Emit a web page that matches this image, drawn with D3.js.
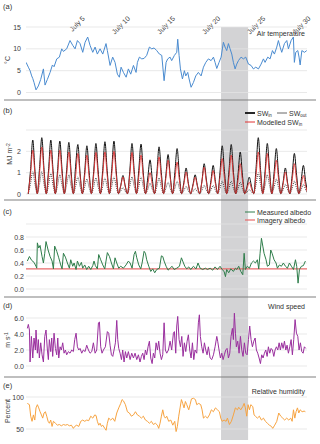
<!DOCTYPE html>
<html lang="en">
<head>
<meta charset="UTF-8"/>
<title>Weather panels</title>
<script src="https://d3js.org/d3.v7.min.js"></script>
<style>
  body { margin:0; background:#fff; }
  text { font-family:"Liberation Sans", Arial, sans-serif; }
</style>
</head>
<body>
<script>
// ---------------- data (t = days since June 29, 00:00) ----------------
var dateTicks = [6, 11, 16, 21, 26, 31];
var dateLabels = ["July 5", "July 10", "July 15", "July 20", "July 25", "July 30"];
var bandStart = 21.37, bandEnd = 24.37;

// (a) air temperature, degC
var tempT = [-0.24,0.01,0.2,0.38,0.5,0.64,0.86,1.12,1.38,1.68,1.86,2.12,2.42,2.68,2.86,3.16,3.45,3.71,3.9,4.26,4.63,4.93,5.19,5.45,5.74,6.04,6.3,6.59,6.85,7.15,7.41,7.66,7.96,8.26,8.62,8.77,9.07,9.36,9.62,9.88,10.1,10.29,10.55,10.85,11.1,11.36,11.66,11.95,12.1,12.32,12.58,12.84,13.13,13.43,13.69,13.95,14.24,14.54,14.8,15.06,15.28,15.46,15.72,15.9,16.2,16.46,16.57,16.72,16.87,17.09,17.31,17.46,17.68,17.83,18.05,18.31,18.57,18.86,19.16,19.42,19.68,19.97,20.27,20.53,20.71,20.9,21.15,21.38,21.63,21.82,22.0,22.19,22.37,22.56,22.74,22.93,23.11,23.3,23.59,23.85,24.11,24.41,24.7,24.96,25.22,25.52,25.81,26.07,26.25,26.55,26.81,27.07,27.29,27.55,27.73,27.92,28.1,28.4,28.66,28.84,29.14,29.39,29.5,29.65,29.88,30.02,30.14,30.33,30.62,30.87];
var tempC = [6.9,5.8,5.0,3.8,3.2,2.3,0.6,1.5,3.0,5.4,1.7,3.0,4.6,6.3,5.9,7.7,8.1,10.0,9.4,10.0,11.9,10.8,10.0,11.9,11.2,9.2,11.5,12.7,10.8,9.2,10.4,8.8,10.0,8.8,11.2,9.6,6.2,8.1,6.9,4.2,3.5,5.8,4.6,3.5,5.4,4.2,6.2,4.6,6.9,8.1,7.7,7.8,8.5,10.4,10.0,10.2,9.6,8.8,8.5,2.7,6.9,7.7,8.1,7.3,8.5,9.2,12.2,8.5,5.4,3.1,5.0,3.8,4.6,3.1,1.2,2.3,3.8,4.6,3.8,5.8,6.9,7.7,7.3,8.1,6.9,5.5,6.9,8.1,11.5,10.4,9.6,11.2,10.0,8.8,6.9,5.4,6.5,7.3,8.1,7.7,8.1,6.5,6.2,5.4,5.8,5.4,6.5,7.7,6.9,8.1,7.7,9.6,8.8,10.4,11.9,10.4,9.2,11.2,11.9,10.0,11.9,12.7,6.9,9.2,9.6,8.1,6.3,9.6,9.2,9.6];

// (b) shortwave, MJ m-2, every 6 h from t = 0 (night, morning, noon, evening)
var swIn = [
  0.02,1.10,2.53,1.05, 0.03,1.20,2.64,1.15, 0.02,1.12,2.53,1.10, 0.02,1.10,2.48,1.12,
  0.03,1.08,2.42,1.05, 0.02,1.30,2.32,0.95, 0.02,1.00,2.26,1.02, 0.03,1.05,2.37,1.08,
  0.02,1.10,2.45,1.10, 0.02,1.12,2.48,1.10, 0.02,0.40,0.87,0.38, 0.02,1.05,2.37,1.07,
  0.03,1.10,2.34,1.00, 0.02,0.75,1.60,0.70, 0.02,0.95,2.21,1.00, 0.03,0.85,1.85,0.80,
  0.02,1.00,2.13,0.92, 0.02,0.55,1.22,0.50, 0.02,0.42,0.90,0.40, 0.02,0.60,1.42,0.65,
  0.02,0.62,1.34,0.58, 0.03,1.00,2.26,1.05, 0.02,1.08,2.32,1.00, 0.02,0.90,1.97,0.85,
  0.02,0.35,0.79,0.36, 0.02,1.20,2.64,1.15, 0.03,1.05,2.37,1.10, 0.02,0.98,2.13,0.92,
  0.02,0.55,1.22,0.52, 0.02,0.85,1.90,0.88, 0.02,0.62,1.34,0.58, 0.02];
var swOut = [
  0.01,0.48,1.05,0.45, 0.01,0.47,1.05,0.46, 0.01,0.43,0.95,0.42, 0.01,0.40,0.90,0.40,
  0.01,0.41,0.90,0.39, 0.01,0.36,0.80,0.35, 0.01,0.32,0.70,0.30, 0.01,0.34,0.75,0.33,
  0.01,0.34,0.75,0.33, 0.01,0.36,0.80,0.35, 0.01,0.14,0.30,0.13, 0.01,0.36,0.80,0.35,
  0.01,0.36,0.80,0.35, 0.01,0.22,0.50,0.22, 0.01,0.34,0.75,0.33, 0.01,0.25,0.55,0.24,
  0.01,0.27,0.60,0.26, 0.01,0.16,0.35,0.15, 0.01,0.11,0.25,0.11, 0.01,0.18,0.40,0.17,
  0.01,0.18,0.40,0.17, 0.01,0.27,0.60,0.26, 0.01,0.27,0.60,0.26, 0.01,0.25,0.55,0.24,
  0.01,0.09,0.20,0.09, 0.01,0.45,1.00,0.44, 0.01,0.41,0.90,0.40, 0.01,0.32,0.70,0.30,
  0.01,0.20,0.45,0.20, 0.01,0.27,0.60,0.26, 0.01,0.20,0.45,0.20, 0.01];
var swModel = [
  0.02,0.92,2.05,0.90, 0.02,0.98,2.20,0.97, 0.02,0.92,2.05,0.91, 0.02,0.92,2.05,0.90,
  0.02,0.88,1.97,0.87, 0.02,0.85,1.90,0.84, 0.02,0.82,1.82,0.80, 0.02,0.88,1.95,0.86,
  0.02,0.88,1.97,0.87, 0.02,0.90,2.00,0.88, 0.02,0.36,0.80,0.35, 0.02,0.88,1.95,0.86,
  0.02,0.82,1.82,0.80, 0.02,0.45,1.00,0.44, 0.02,0.78,1.74,0.77, 0.02,0.71,1.58,0.70,
  0.02,0.68,1.50,0.66, 0.02,0.46,1.03,0.45, 0.02,0.36,0.79,0.35, 0.02,0.57,1.26,0.55,
  0.02,0.50,1.10,0.48, 0.02,0.75,1.66,0.73, 0.02,0.82,1.82,0.80, 0.02,0.64,1.42,0.62,
  0.02,0.25,0.55,0.24, 0.02,0.88,1.97,0.87, 0.02,0.85,1.90,0.84, 0.02,0.71,1.58,0.70,
  0.02,0.46,1.03,0.45, 0.02,0.64,1.42,0.62, 0.02,0.39,0.87,0.38, 0.02];
var swT = d3.range(swIn.length).map(function(i){ return i * 0.25; });

// (c) albedo
var albT = [-0.1,0.13,0.38,0.64,0.86,0.94,1.01,1.16,1.31,1.53,1.68,1.83,1.97,2.2,2.42,2.64,2.79,2.93,3.16,3.38,3.6,3.75,3.9,4.12,4.34,4.56,4.71,4.93,5.08,5.3,5.45,5.67,5.89,6.04,6.26,6.48,6.7,6.93,7.15,7.29,7.44,7.66,7.81,8.03,8.26,8.48,8.77,9.0,9.22,9.44,9.62,9.81,10.03,10.25,10.55,10.84,11.1,11.29,11.51,11.73,11.88,12.03,12.25,12.47,12.62,12.84,12.99,13.13,13.36,13.58,13.8,14.02,14.24,14.54,14.76,14.91,15.06,15.28,15.5,15.72,15.94,16.17,16.46,16.76,16.98,17.12,17.35,17.57,17.79,18.01,18.31,18.6,18.82,19.05,19.34,19.64,19.86,20.16,20.45,20.71,20.97,21.26,21.49,21.71,21.86,22.0,22.22,22.45,22.74,22.97,23.12,23.33,23.56,23.78,23.93,24.07,24.29,24.52,24.74,24.96,25.18,25.4,25.55,25.7,25.85,26.0,26.14,26.36,26.51,26.73,26.88,27.03,27.25,27.47,27.62,27.84,28.06,28.28,28.51,28.73,28.95,29.17,29.4,29.62,29.76,29.91,30.06,30.28,30.5,30.72];
var albMeasured = [0.43,0.5,0.44,0.41,0.35,0.32,0.71,0.63,0.67,0.5,0.4,0.55,0.73,0.6,0.5,0.43,0.31,0.66,0.58,0.48,0.37,0.31,0.55,0.49,0.4,0.32,0.45,0.35,0.4,0.3,0.43,0.35,0.41,0.32,0.37,0.3,0.35,0.3,0.36,0.43,0.36,0.31,0.53,0.45,0.37,0.31,0.56,0.5,0.4,0.31,0.48,0.4,0.32,0.35,0.32,0.37,0.43,0.4,0.32,0.53,0.58,0.48,0.37,0.31,0.4,0.58,0.55,0.45,0.35,0.27,0.31,0.25,0.3,0.32,0.51,0.5,0.43,0.35,0.29,0.32,0.35,0.3,0.32,0.35,0.48,0.43,0.35,0.31,0.34,0.3,0.35,0.31,0.4,0.32,0.3,0.32,0.3,0.32,0.29,0.34,0.3,0.35,0.3,0.27,0.19,0.3,0.25,0.31,0.27,0.32,0.3,0.35,0.27,0.22,0.55,0.3,0.35,0.32,0.4,0.43,0.4,0.45,0.31,0.55,0.78,0.66,0.55,0.45,0.35,0.37,0.6,0.55,0.45,0.4,0.32,0.37,0.35,0.4,0.35,0.32,0.4,0.35,0.3,0.45,0.35,0.09,0.3,0.35,0.36,0.43];
var albImageryT = [-0.25, 30.9];
var albImagery = [0.31, 0.31];

// (d) wind speed, m s-1
var windT = [-0.1,0.01,0.13,0.2,0.35,0.5,0.64,0.79,0.86,1.01,1.12,1.23,1.38,1.53,1.68,1.83,1.97,2.12,2.23,2.34,2.49,2.6,2.71,2.86,3.01,3.16,3.27,3.38,3.53,3.67,3.82,3.97,4.12,4.26,4.45,4.63,4.82,5.0,5.15,5.3,5.45,5.6,5.74,5.93,6.11,6.3,6.48,6.67,6.85,7.04,7.22,7.41,7.59,7.78,7.89,8.03,8.18,8.33,8.55,8.77,8.92,9.07,9.22,9.37,9.51,9.66,9.81,9.92,10.03,10.18,10.33,10.47,10.62,10.77,10.92,11.1,11.29,11.47,11.66,11.84,12.03,12.21,12.39,12.54,12.69,12.84,12.99,13.13,13.28,13.43,13.58,13.73,13.87,14.02,14.17,14.32,14.46,14.61,14.76,14.91,15.06,15.2,15.35,15.54,15.72,15.9,16.09,16.2,16.35,16.46,16.57,16.72,16.87,17.02,17.16,17.31,17.46,17.61,17.75,17.9,18.05,18.2,18.35,18.49,18.68,18.86,18.97,19.08,19.23,19.38,19.53,19.68,19.82,19.97,20.16,20.34,20.53,20.71,20.9,21.0,21.15,21.3,21.45,21.6,21.74,21.89,22.04,22.19,22.34,22.48,22.63,22.74,22.85,22.97,23.07,23.22,23.37,23.52,23.67,23.81,23.96,24.11,24.26,24.41,24.55,24.7,24.85,25.0,25.15,25.29,25.44,25.59,25.74,25.88,26.03,26.18,26.33,26.48,26.62,26.77,26.92,27.07,27.22,27.36,27.51,27.66,27.81,27.95,28.1,28.25,28.4,28.55,28.69,28.84,28.99,29.14,29.28,29.43,29.58,29.73,29.88,30.02,30.17,30.32,30.47,30.61,30.76];
var windSpeed = [4.7,5.2,4.5,0.5,3.7,1.0,3.5,2.0,4.5,1.6,3.3,1.0,2.9,1.4,0.5,3.7,4.5,2.0,0.8,3.3,1.8,3.5,1.2,4.1,2.2,1.4,3.5,1.0,2.4,2.0,2.9,1.6,2.0,1.4,1.8,1.6,2.0,1.8,3.3,4.1,2.4,2.0,2.2,1.6,2.0,1.8,2.6,2.0,1.6,1.8,2.9,1.6,2.0,5.4,5.5,2.4,1.6,2.0,2.4,4.3,4.1,2.6,1.4,1.2,2.0,2.9,5.7,3.3,2.2,1.6,0.8,2.0,0.5,1.8,1.0,1.8,0.8,1.6,1.0,1.6,0.8,1.4,0.5,1.2,1.6,0.8,2.0,1.4,2.4,3.1,1.0,0.3,1.6,1.0,2.9,2.0,3.1,1.6,0.8,1.4,5.4,2.0,1.6,2.0,3.1,2.0,4.1,4.3,1.6,5.0,6.2,3.3,2.4,3.7,1.2,2.9,1.8,3.1,3.9,2.0,1.0,2.9,0.8,2.0,1.6,5.4,6.4,3.7,2.4,1.6,2.9,2.0,1.4,2.4,1.0,0.8,1.4,2.4,3.7,3.1,2.0,1.0,1.6,0.8,1.4,2.0,2.2,1.0,1.6,3.7,4.7,3.3,6.6,4.1,2.4,3.1,1.6,3.7,2.0,1.2,2.9,1.6,1.4,3.3,5.0,3.3,2.4,3.1,3.5,2.0,1.6,1.0,0.3,1.4,1.0,1.6,2.0,1.2,2.4,1.6,2.2,2.0,1.2,2.0,2.4,2.0,2.9,2.0,2.9,2.2,3.1,2.0,2.6,1.6,2.4,3.3,1.4,3.3,5.8,4.1,3.7,2.0,2.9,1.8,1.6,2.4,2.2];

// (e) relative humidity, percent
var rhT = [-0.1,0.13,0.27,0.42,0.57,0.72,0.86,1.01,1.16,1.31,1.46,1.6,1.75,1.9,2.05,2.2,2.34,2.49,2.64,2.79,3.01,3.23,3.45,3.67,3.9,4.12,4.34,4.56,4.78,5.0,5.15,5.37,5.6,5.82,6.04,6.26,6.48,6.7,6.93,7.15,7.37,7.52,7.66,7.81,7.96,8.11,8.26,8.48,8.63,8.77,8.92,9.14,9.37,9.59,9.81,10.03,10.25,10.4,10.55,10.77,10.99,11.21,11.43,11.66,11.88,12.1,12.32,12.54,12.76,12.99,13.21,13.43,13.65,13.87,14.09,14.32,14.46,14.61,14.76,14.91,15.06,15.2,15.35,15.57,15.8,16.02,16.24,16.39,16.53,16.68,16.83,16.98,17.12,17.27,17.42,17.57,17.79,17.94,18.09,18.31,18.53,18.68,18.9,19.12,19.27,19.42,19.64,19.86,20.08,20.3,20.52,20.75,20.97,21.19,21.34,21.49,21.71,21.93,22.08,22.3,22.52,22.74,22.96,23.19,23.33,23.56,23.78,23.93,24.07,24.22,24.37,24.52,24.67,24.89,25.03,25.18,25.4,25.62,25.85,26.07,26.29,26.51,26.73,26.96,27.1,27.32,27.55,27.77,27.99,28.21,28.43,28.65,28.88,29.1,29.25,29.4,29.55,29.69,29.84,29.99,30.14,30.36,30.58,30.72];
var rhPct = [90,88,70,62,72,64,83,88,83,77,72,67,75,77,70,62,59,64,54,62,59,56,57,55,57,56,57,55,56,51,54,56,54,62,64,62,64,63,70,67,72,71,62,56,59,54,56,51,48,59,67,64,67,62,75,83,90,96,94,88,77,75,70,72,77,72,70,67,70,64,62,59,62,57,59,56,51,59,70,80,70,67,70,62,64,56,62,46,54,70,83,96,90,83,93,88,80,88,97,98,96,88,90,88,80,67,70,67,72,80,77,83,80,77,67,62,64,62,67,57,62,72,83,80,84,80,85,90,83,70,88,80,88,85,72,70,67,70,64,67,62,59,56,54,51,56,62,75,70,67,64,67,64,67,62,80,67,77,83,75,80,77,78,77];

// ---------------- drawing ----------------
var w = 320, h = 444;
var left = 26, right = 307;
var svg = d3.select("body").append("svg").attr("width", w).attr("height", h);

var xScale = d3.scaleLinear().domain([-0.25, 30.9]).range([left, right]);

svg.append("defs").append("clipPath").attr("id", "plotclip")
  .append("rect").attr("x", left).attr("y", 0).attr("width", right - left).attr("height", h);

// grey period band
svg.append("rect")
  .attr("x", xScale(bandStart)).attr("y", 27)
  .attr("width", xScale(bandEnd) - xScale(bandStart))
  .attr("height", 413)
  .attr("fill", "#d3d3d5");

// panel separators
[100, 200, 297, 377].forEach(function(y){
  svg.append("line").attr("x1", 4).attr("x2", 316).attr("y1", y).attr("y2", y)
    .attr("stroke", "#808080").attr("stroke-width", 1.2);
});

// date labels on top
svg.selectAll(".dlab").data(dateTicks).enter().append("text")
  .attr("class", "dlab")
  .attr("transform", function(d){ return "translate(" + (xScale(d) + 3) + ",19) rotate(-45)"; })
  .attr("text-anchor", "end")
  .attr("font-size", 7).attr("fill", "#404040")
  .text(function(d, i){ return dateLabels[i]; });

function panel(cfg) {
  var y = d3.scaleLinear().domain(cfg.domain).range(cfg.range);
  var g = svg.append("g");
  // gridlines
  g.selectAll(".grid").data(cfg.grid).enter().append("line")
    .attr("x1", left).attr("x2", right)
    .attr("y1", function(d){ return y(d); }).attr("y2", function(d){ return y(d); })
    .attr("stroke", "#e3e3e3").attr("stroke-width", 0.8);
  // tick labels
  g.selectAll(".tl").data(cfg.ticks).enter().append("text")
    .attr("x", cfg.tickX).attr("y", function(d){ return y(d) + 2.5; })
    .attr("text-anchor", "end").attr("font-size", 7).attr("fill", "#404040")
    .text(function(d){ return cfg.fmt(d); });
  // y title
  if (cfg.title) {
    var tt = g.append("text")
      .attr("transform", "translate(" + cfg.titleX + "," + cfg.titleY + ") rotate(-90)")
      .attr("text-anchor", "middle").attr("font-size", 7).attr("fill", "#404040");
    tt.append("tspan").text(cfg.title);
    if (cfg.titleSup) {
      tt.append("tspan").attr("dy", -2.5).attr("font-size", 5).text(cfg.titleSup);
    }
  }
  // panel letter
  svg.append("text").attr("x", 3).attr("y", cfg.letterY)
    .attr("font-size", 7.5).attr("fill", "#303030").text(cfg.letter);
  // series
  cfg.series.forEach(function(s){
    var line = d3.line()
      .x(function(d){ return xScale(d[0]); })
      .y(function(d){ return y(d[1]); })
      .curve(s.curve || d3.curveLinear);
    g.append("path")
      .datum(s.t.map(function(t, i){ return [t, s.v[i]]; }))
      .attr("clip-path", "url(#plotclip)")
      .attr("d", line)
      .attr("fill", "none")
      .attr("stroke", s.color)
      .attr("stroke-width", s.width || 1)
      .attr("stroke-dasharray", s.dash || null)
      .attr("stroke-linejoin", "round");
  });
  return y;
}

// (a)
panel({
  letter: "(a)", letterY: 9,
  domain: [0, 15], range: [92.5, 27], grid: [0, 5, 10, 15], ticks: [0, 5, 10, 15],
  fmt: d3.format("d"), tickX: 21, title: "°C", titleX: 10, titleY: 60,
  series: [{ t: tempT, v: tempC, color: "#4a8bd0", width: 1 }]
});
svg.append("text").attr("x", 305).attr("y", 36).attr("text-anchor", "end")
  .attr("font-size", 7).attr("fill", "#303030").text("Air temperature");

// (b)
panel({
  letter: "(b)", letterY: 113,
  domain: [0, 3], range: [194, 130], grid: [0, 1, 2, 3], ticks: [0, 1, 2],
  fmt: d3.format("d"), tickX: 21, title: "MJ m", titleSup: "-2", titleX: 12, titleY: 154,
  series: [
    { t: swT, v: swOut, color: "#3a3a3a", width: 0.9, dash: "1,1", curve: d3.curveMonotoneX },
    { t: swT, v: swIn, color: "#111111", width: 1, curve: d3.curveMonotoneX },
    { t: swT, v: swModel, color: "#e03131", width: 0.9, curve: d3.curveMonotoneX }
  ]
});
// legend (b)
function legendLine(x, y, color, width, dash) {
  svg.append("line").attr("x1", x).attr("x2", x + 10).attr("y1", y).attr("y2", y)
    .attr("stroke", color).attr("stroke-width", width).attr("stroke-dasharray", dash || null);
}
function legendText(x, y, main, sub) {
  var t = svg.append("text").attr("x", x).attr("y", y + 2.5)
    .attr("font-size", 7).attr("fill", "#303030");
  t.append("tspan").text(main);
  if (sub) t.append("tspan").attr("dy", 1.5).attr("font-size", 4.5).text(sub);
}
legendLine(245, 113, "#111111", 1.8);
legendText(257, 113, "SW", "in");
legendLine(277, 113, "#666666", 1);
legendText(289, 113, "SW", "out");
legendLine(245, 122, "#e03131", 1);
legendText(257, 122, "Modelled SW", "in");

// (c)
panel({
  letter: "(c)", letterY: 214,
  domain: [0, 1], range: [289, 224], grid: [0, 0.2, 0.4, 0.6, 0.8, 1.0], ticks: [0, 0.2, 0.4, 0.6, 0.8],
  fmt: d3.format(".1f"), tickX: 24,
  series: [
    { t: albImageryT, v: albImagery, color: "#e86a6a", width: 1.2 },
    { t: albT, v: albMeasured, color: "#2e7d4a", width: 1 }
  ]
});
legendLine(245, 212, "#2e7d4a", 1);
legendText(257, 212, "Measured albedo");
legendLine(245, 220, "#e86a6a", 1.2);
legendText(257, 220, "Imagery albedo");

// (d)
panel({
  letter: "(d)", letterY: 308,
  domain: [0, 6], range: [366, 318], grid: [0, 2, 4, 6], ticks: [0, 2, 4, 6],
  fmt: d3.format(".1f"), tickX: 24, title: "m s", titleSup: "-1", titleX: 10, titleY: 340,
  series: [{ t: windT, v: windSpeed, color: "#9a2f9e", width: 1 }]
});
svg.append("text").attr("x", 305).attr("y", 309).attr("text-anchor", "end")
  .attr("font-size", 7).attr("fill", "#303030").text("Wind speed");

// (e)
panel({
  letter: "(e)", letterY: 388,
  domain: [50, 100], range: [429, 397], grid: [50, 100], ticks: [50, 100],
  fmt: d3.format("d"), tickX: 24, title: "Percent", titleX: 10, titleY: 411,
  series: [{ t: rhT, v: rhPct, color: "#f7a340", width: 1 }]
});
svg.append("text").attr("x", 305).attr("y", 394).attr("text-anchor", "end")
  .attr("font-size", 7).attr("fill", "#303030").text("Relative humidity");
</script>
</body>
</html>
